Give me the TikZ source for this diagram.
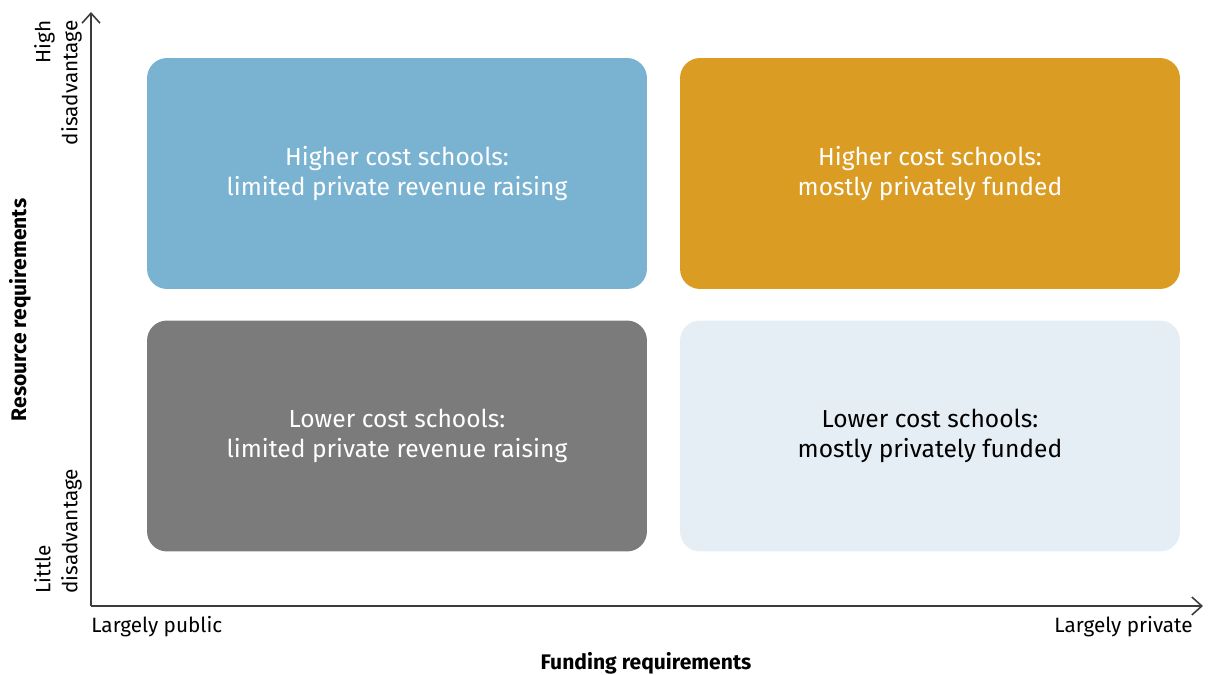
\documentclass[tikz,border=0pt]{standalone}
\usepackage{fontspec}
\setmainfont{Fira Sans}
\usetikzlibrary{positioning}
\usetikzlibrary{arrows.meta}

\definecolor{quadblue}{HTML}{7AB3D1}
\definecolor{quadorange}{HTML}{DA9C22}
\definecolor{quadgray}{HTML}{7B7B7B}
\definecolor{quadlight}{HTML}{E5EDF5}
\definecolor{axisgray}{HTML}{3C3C3C}

\tikzset{
	quad/.style={rounded corners=0.4cm, minimum width=10cm, minimum height=4.62cm,
		align=center, font=\fontsize{14}{17}\selectfont, inner sep=0pt},
	axislabel/.style={font=\fontsize{11.8}{15.3}\selectfont, text=black},
	axistitle/.style={font=\fontsize{12}{14}\selectfont\bfseries, text=black}
}

\begin{document}
\begin{tikzpicture}[x=0.02cm, y=-0.02cm]
		\useasboundingbox (0,0) rectangle (1208,675);
		% quadrants
		\node[quad, fill=quadblue, text=white] (hipub) at (397,173.5) {Higher cost schools:\\limited private revenue raising};
		\node[quad, fill=quadorange, text=white] (hipriv) at (930,173.5) {Higher cost schools:\\mostly privately funded};
		\node[quad, fill=quadgray, text=white] (lopub) at (397,436) {Lower cost schools:\\limited private revenue raising};
		\node[quad, fill=quadlight, text=black] (lopriv) at (930,436) {Lower cost schools:\\mostly privately funded};
		% axes
		\coordinate (orig) at (91,606);
		\coordinate (ytip) at (91,12);
		\coordinate (xtip) at (1203,606);
		\draw[axisgray, line width=0.9pt, -{Straight Barb[length=2mm, width=3.6mm]}] (orig) -- (ytip);
		\draw[axisgray, line width=0.9pt, -{Straight Barb[length=2mm, width=3.6mm]}] (orig) -- (xtip);
		% labels
		\node[axislabel, anchor=west, inner sep=0pt] (lpub) at (91,627) {Largely public};
		\node[axislabel, anchor=east, inner sep=0pt] (lpriv) at (1193,627) {Largely private};
		\node[axistitle] (ftitle) at (646,663) {Funding requirements};
		\node[axistitle, rotate=90] (rtitle) at (20,310) {Resource requirements};
		\node[axislabel, rotate=90, anchor=east, align=right, inner sep=0pt] (hidis) at (58,20) {High\\disadvantage};
		\node[axislabel, rotate=90, anchor=west, align=left, inner sep=0pt] (lodis) at (58,594) {Little\\disadvantage};
	\end{tikzpicture}
\end{document}
